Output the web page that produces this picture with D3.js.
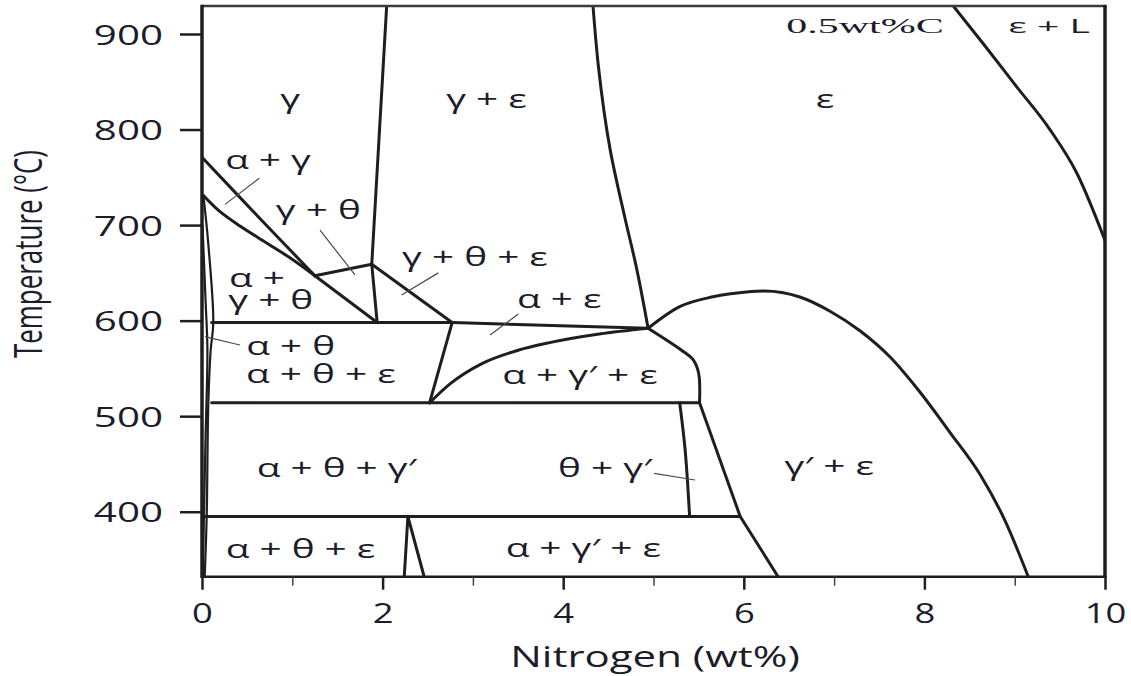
<!DOCTYPE html>
<html>
<head>
<meta charset="utf-8">
<script src="https://cdn.jsdelivr.net/npm/d3@7"></script>
<style>
  html, body { margin: 0; padding: 0; background: #ffffff; }
  svg { display: block; }
</style>
</head>
<body>
<svg id="chart" width="1131" height="676"></svg>
<script>
// Fe–N–0.5C isopleth: nitrogen content (wt%) vs temperature (°C)

// ---- axis ticks ----
const nitrogenTicks = [0, 2, 4, 6, 8, 10];
const nitrogenMinorTicks = [1, 3, 5, 7, 9];
const temperatureTicks = [400, 500, 600, 700, 800, 900];

// ---- phase boundaries, points as [N wt%, T °C] ----
const gammaUpper = [[0.01, 770], [0.62, 709], [1.25, 647]];
const alphaGammaLower = [[0.01, 731.5], [0.2, 714], [0.42, 699], [0.72, 681], [1.01, 663.5], [1.25, 647]];
const gammaThetaBase = [[1.25, 647], [1.94, 598]];
const gammaThetaTop = [[1.25, 647], [1.88, 659]];
const gammaSolvus = [[2.045, 929.3], [1.96, 790], [1.88, 659]];
const gammaSolvusLow = [[1.88, 659], [1.94, 598]];
const thetaEpsilonEdge = [[1.88, 659], [2.77, 598]];
const eutectoid = [[0.107, 598], [2.77, 598]];
const alphaEpsilonBase = [[2.77, 598], [4.94, 592]];
const alphaThetaEpsilonEdge = [[2.77, 598], [2.52, 514]];
const alphaGammaPrimeTop = [[2.52, 514], [2.75, 534], [3.1, 555], [3.5, 569], [3.85, 577], [4.4, 586], [4.94, 592]];
const gammaPrimeEpsilonEdge = [[4.94, 592], [5.31, 569], [5.44, 559], [5.5, 545], [5.51, 514]];
const isotherm514 = [[0.107, 514], [5.51, 514]];
const epsilonSolvusLow = [[5.51, 514], [5.96, 395], [6.38, 332]];
const thetaGammaPrimeEdge = [[5.29, 514], [5.35, 465], [5.40, 395]];
const isotherm395 = [[0.03, 395], [5.96, 395]];
const lowWedge = [[2.24, 332], [2.28, 395], [2.46, 332]];
const epsilonSolvus = [[4.33, 929.3], [4.39, 866], [4.52, 779], [4.68, 709], [4.81, 656], [4.94, 592]];
const gammaPrimeDome = [[4.94, 592], [5.29, 614.6], [5.66, 625], [6.03, 630], [6.23, 631], [6.62, 624.7],
  [6.95, 610.1], [7.29, 589.1], [7.62, 561.9], [7.95, 525.3], [8.28, 483.4], [8.62, 438.4], [8.89, 391.3], [9.15, 332]];
const liquidus = [[8.32, 929.3], [8.65, 890], [9.02, 845], [9.39, 800], [9.69, 754], [10, 684]];
const alphaSolvusOuter = [[0.015, 731], [0.07, 680], [0.125, 598], [0.096, 569], [0.07, 514], [0.052, 395], [0.03, 332]];
const alphaSolvusInner = [[0.005, 700], [0.04, 620], [0.06, 569], [0.04, 480], [0.022, 398], [0.01, 332]];

// ---- leader lines from labels into narrow fields ----
const leaders = [
  [[0.255, 721.7], [0.635, 749]],
  [[1.307, 694.8], [1.694, 647.8]],
  [[2.21, 626.8], [2.617, 650]],
  [[3.19, 584.9], [3.503, 606.9]],
  [[0.033, 583.2], [0.42, 574.5]],
  [[5.006, 440.2], [5.46, 433.2]]
];

// ---- phase field labels (baseline position in data units); stacked lines share one group ----
const phaseLabels = [
  [{ text: "γ", n: 0.975, t: 822.2 }],
  [{ text: "γ + ε", n: 3.15, t: 822.2 }],
  [{ text: "ε", n: 6.9, t: 822.2 }],
  [{ text: "α + γ", n: 0.731, t: 758.4 }],
  [{ text: "γ + θ", n: 1.288, t: 706.4 }],
  [{ text: "γ + θ + ε", n: 3.023, t: 657.2 }],
  [{ text: "α +", n: 0.299, t: 635.2, anchor: "start" }, { text: "γ + θ", n: 0.291, t: 612.2, anchor: "start" }],
  [{ text: "α + ε", n: 3.956, t: 612.9 }],
  [{ text: "α + θ", n: 0.983, t: 564 }, { text: "α + θ + ε", n: 1.316, t: 534.4 }],
  [{ text: "α + γ′ + ε", n: 4.186, t: 533.7 }],
  [{ text: "α + θ + γ′", n: 1.491, t: 436.6 }],
  [{ text: "θ + γ′", n: 4.463, t: 436.6 }],
  [{ text: "γ′ + ε", n: 6.946, t: 438.4 }],
  [{ text: "α + θ + ε", n: 1.091, t: 351.2 }],
  [{ text: "α + γ′ + ε", n: 4.223, t: 352.3 }]
];
const cornerLabels = [[{ text: "ε + L", n: 9.38, t: 901 }]];
const compositionNote = [[{ text: "0.5wt%C", n: 7.342, t: 901 }]];

// ---- drawing ----
const ink = "#1e1e1e";
const textInk = "#1c1c2a";
const sans = "'Open Sans', 'DejaVu Sans', sans-serif";
const svg = d3.select("#chart");

const x = d3.scaleLinear().domain([0, 10]).range([202, 1105]);
const y = d3.scaleLinear().domain([332, 929.3]).range([576.7, 6]);

const straight = d3.line().x(d => x(d[0])).y(d => y(d[1]));
const smooth = d3.line().x(d => x(d[0])).y(d => y(d[1])).curve(d3.curveCatmullRom.alpha(0.5));
const smoothX = d3.line().x(d => x(d[0])).y(d => y(d[1])).curve(d3.curveMonotoneX);
const smoothY = d3.line().x(d => x(d[0])).y(d => y(d[1])).curve(d3.curveMonotoneY);

svg.append("defs").append("clipPath").attr("id", "plot-area")
  .append("rect")
  .attr("x", x(0)).attr("y", y(929.3))
  .attr("width", x(10) - x(0)).attr("height", y(332) - y(929.3));

const boundaries = [
  { pts: gammaUpper, line: smooth },
  { pts: alphaGammaLower, line: smooth },
  { pts: gammaThetaBase, line: straight },
  { pts: gammaThetaTop, line: straight },
  { pts: gammaSolvus, line: smooth },
  { pts: gammaSolvusLow, line: straight },
  { pts: thetaEpsilonEdge, line: straight },
  { pts: eutectoid, line: straight },
  { pts: alphaEpsilonBase, line: straight },
  { pts: alphaThetaEpsilonEdge, line: straight },
  { pts: alphaGammaPrimeTop, line: smoothX },
  { pts: gammaPrimeEpsilonEdge, line: smooth },
  { pts: isotherm514, line: straight },
  { pts: epsilonSolvusLow, line: straight },
  { pts: thetaGammaPrimeEdge, line: smooth },
  { pts: isotherm395, line: straight },
  { pts: lowWedge, line: straight },
  { pts: epsilonSolvus, line: smoothY },
  { pts: gammaPrimeDome, line: smoothX },
  { pts: liquidus, line: smoothX },
  { pts: alphaSolvusOuter, line: smooth, w: 2.2 },
  { pts: alphaSolvusInner, line: smooth, w: 2.2 }
];

const plot = svg.append("g").attr("clip-path", "url(#plot-area)");
plot.selectAll("path.boundary")
  .data(boundaries)
  .join("path")
  .attr("class", "boundary")
  .attr("d", d => d.line(d.pts))
  .attr("fill", "none")
  .attr("stroke", ink)
  .attr("stroke-width", d => d.w || 3)
  .attr("stroke-linejoin", "round")
  .attr("stroke-linecap", "round");

plot.selectAll("path.leader")
  .data(leaders)
  .join("path")
  .attr("class", "leader")
  .attr("d", straight)
  .attr("fill", "none")
  .attr("stroke", "#4a4a4a")
  .attr("stroke-width", 1.2);

// frame
const frame = svg.append("g").attr("stroke", ink).attr("fill", "none");
frame.append("line").attr("x1", x(0)).attr("x2", x(10)).attr("y1", y(929.3)).attr("y2", y(929.3)).attr("stroke-width", 2.5).attr("stroke", "#3a3a3a");
frame.append("line").attr("x1", x(0)).attr("x2", x(10)).attr("y1", y(332)).attr("y2", y(332)).attr("stroke-width", 2.5);
frame.append("line").attr("x1", x(0)).attr("x2", x(0)).attr("y1", y(929.3) - 1.2).attr("y2", y(332) + 1.2).attr("stroke-width", 3.5);
frame.append("line").attr("x1", x(10)).attr("x2", x(10)).attr("y1", y(929.3) - 1.2).attr("y2", y(332) + 1.2).attr("stroke-width", 3.5);

// labels inside the diagram; each group is one text element, extra lines as tspans
function placeLabels(groups, size, stretch, family) {
  const texts = svg.append("g")
    .selectAll("text")
    .data(groups)
    .join("text")
    .attr("transform", g => `translate(${x(g[0].n)},${y(g[0].t)}) scale(${stretch},1)`)
    .attr("font-family", family)
    .attr("font-size", size)
    .attr("fill", textInk);
  texts.selectAll("tspan")
    .data(g => g.map(d => ({ d, x0: x(g[0].n), y0: y(g[0].t) })))
    .join("tspan")
    .attr("x", o => (x(o.d.n) - o.x0) / stretch)
    .attr("y", o => y(o.d.t) - o.y0)
    .attr("text-anchor", o => o.d.anchor || "middle")
    .text(o => o.d.text);
}
placeLabels(phaseLabels, 25, 1.55, sans);
placeLabels(cornerLabels, 20, 1.95, sans);
placeLabels(compositionNote, 20, 2.1, "'Liberation Serif', 'Times New Roman', serif");

// y axis
const yAxis = svg.append("g")
  .attr("transform", `translate(${x(0)},0)`)
  .call(d3.axisLeft(y).tickValues(temperatureTicks).tickSize(22));
yAxis.select(".domain").remove();
yAxis.selectAll(".tick line").attr("stroke", ink).attr("stroke-width", 2.5);
yAxis.selectAll(".tick text")
  .attr("x", null).attr("dy", "0.36em")
  .attr("transform", "translate(-39,0) scale(1.44,1)")
  .attr("font-family", sans).attr("font-size", 28).attr("fill", textInk);

// x axis: major and minor ticks
const xAxis = svg.append("g")
  .attr("transform", `translate(0,${y(332)})`)
  .call(d3.axisBottom(x).tickValues(nitrogenTicks).tickSize(13));
xAxis.select(".domain").remove();
xAxis.selectAll(".tick line").attr("stroke", ink).attr("stroke-width", 2.5);
xAxis.selectAll(".tick text")
  .attr("y", null).attr("dy", null)
  .attr("transform", "translate(0,46) scale(1.3,1)")
  .attr("font-family", sans).attr("font-size", 28).attr("fill", textInk);

const xMinor = svg.append("g")
  .attr("transform", `translate(0,${y(332)})`)
  .call(d3.axisBottom(x).tickValues(nitrogenMinorTicks).tickSize(9).tickFormat(""));
xMinor.select(".domain").remove();
xMinor.selectAll(".tick line").attr("stroke", "#444").attr("stroke-width", 1.5);

// axis titles
svg.append("text")
  .attr("transform", "translate(655,667) scale(1.4,1)")
  .attr("text-anchor", "middle")
  .attr("font-family", sans).attr("font-size", 30).attr("fill", textInk)
  .text("Nitrogen (wt%)");

svg.append("text")
  .attr("transform", "translate(42,254) scale(1.4,1) rotate(-90)")
  .attr("text-anchor", "middle")
  .attr("font-family", sans).attr("font-size", 28).attr("fill", textInk)
  .attr("textLength", 208).attr("lengthAdjust", "spacingAndGlyphs")
  .text("Temperature (°C)");
</script>
</body>
</html>
